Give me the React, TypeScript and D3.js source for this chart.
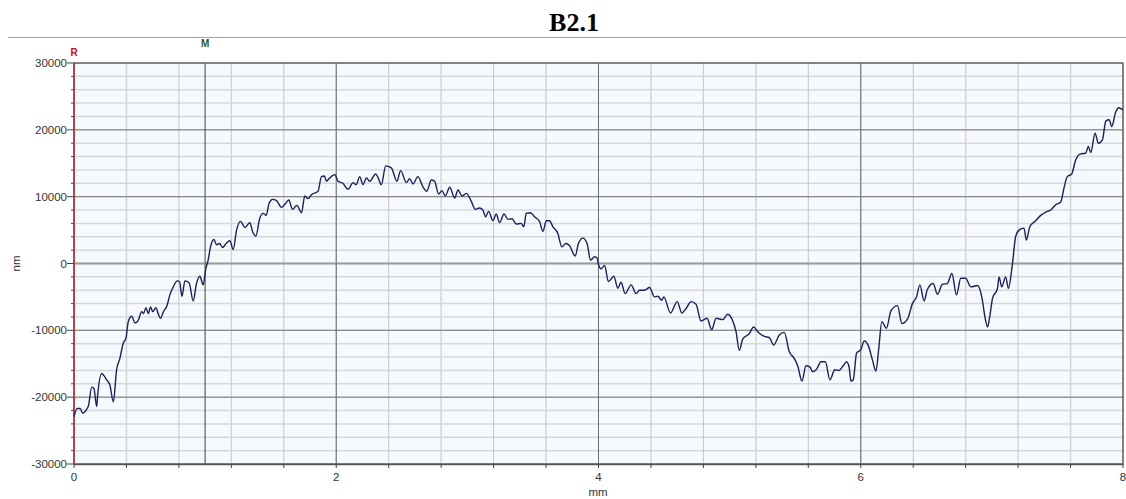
import React from "react";
import * as d3 from "d3";

// Surface profile B2.1: lateral position (mm) against height (nm)
const positionMm = [
  0, 0.025, 0.046, 0.066, 0.097, 0.11, 0.135, 0.152, 0.173, 0.18, 0.211, 0.249, 0.274, 0.3,
  0.325, 0.35, 0.376, 0.396, 0.414, 0.44, 0.465, 0.49, 0.516, 0.53, 0.549, 0.566, 0.584, 0.6,
  0.625, 0.642, 0.66, 0.68, 0.711, 0.731, 0.757, 0.787, 0.805, 0.823, 0.846, 0.878, 0.909,
  0.934, 0.96, 0.985, 1.006, 1.023, 1.041, 1.067, 1.087, 1.11, 1.133, 1.16, 1.189, 1.214,
  1.24, 1.27, 1.303, 1.341, 1.365, 1.387, 1.417, 1.443, 1.465, 1.488, 1.514, 1.545, 1.582,
  1.61, 1.638, 1.666, 1.7, 1.735, 1.76, 1.785, 1.811, 1.861, 1.887, 1.91, 1.925, 1.945, 1.989,
  2.014, 2.05, 2.09, 2.128, 2.152, 2.179, 2.204, 2.23, 2.255, 2.301, 2.32, 2.344, 2.377, 2.42,
  2.463, 2.491, 2.535, 2.56, 2.585, 2.623, 2.66, 2.69, 2.725, 2.75, 2.781, 2.806, 2.832,
  2.865, 2.903, 2.928, 2.96, 2.992, 3.03, 3.06, 3.092, 3.118, 3.139, 3.162, 3.195, 3.22,
  3.246, 3.279, 3.31, 3.34, 3.373, 3.41, 3.43, 3.449, 3.482, 3.512, 3.55, 3.576, 3.602,
  3.627, 3.652, 3.69, 3.72, 3.752, 3.778, 3.822, 3.847, 3.88, 3.913, 3.939, 3.97, 3.99, 4.0,
  4.02, 4.046, 4.076, 4.117, 4.147, 4.172, 4.203, 4.249, 4.287, 4.312, 4.35, 4.389, 4.427,
  4.452, 4.483, 4.498, 4.549, 4.6, 4.636, 4.669, 4.706, 4.744, 4.782, 4.828, 4.863, 4.897,
  4.948, 4.985, 5.024, 5.049, 5.074, 5.1, 5.15, 5.183, 5.214, 5.265, 5.303, 5.336, 5.379,
  5.417, 5.455, 5.493, 5.519, 5.552, 5.582, 5.613, 5.633, 5.664, 5.697, 5.73, 5.765, 5.802,
  5.835, 5.866, 5.892, 5.912, 5.925, 5.943, 5.968, 6.0, 6.027, 6.06, 6.09, 6.116, 6.136,
  6.161, 6.196, 6.23, 6.28, 6.314, 6.357, 6.394, 6.425, 6.451, 6.483, 6.508, 6.552, 6.585,
  6.623, 6.66, 6.695, 6.73, 6.763, 6.8, 6.839, 6.89, 6.923, 6.949, 6.967, 6.985, 7.005,
  7.043, 7.055, 7.075, 7.105, 7.126, 7.156, 7.181, 7.207, 7.245, 7.263, 7.289, 7.334, 7.373,
  7.411, 7.449, 7.487, 7.525, 7.55, 7.575, 7.609, 7.639, 7.677, 7.715, 7.736, 7.754, 7.787,
  7.812, 7.843, 7.869, 7.894, 7.914, 7.945, 7.97, 7.99, 8.0,
];

const heightNm = [
  -22900, -21700, -21700, -22400, -21800, -21300, -18500, -18700, -21400, -19800, -16500,
  -17400, -18200, -20700, -15900, -14200, -11900, -11200, -8700, -7900, -8900, -8500, -7200,
  -7500, -6600, -7500, -6500, -7200, -6600, -7500, -8200, -7300, -6200, -4700, -3500, -2600,
  -2700, -4900, -2600, -2900, -5600, -3000, -1900, -3200, -700, 500, 2500, 3600, 2800, 3000,
  2400, 3000, 3400, 2100, 5000, 6300, 5400, 6100, 4600, 4100, 6800, 7500, 7200, 9000, 9600,
  9400, 8400, 8900, 9500, 8100, 8700, 7600, 10100, 9700, 10300, 10800, 13000, 13100, 12300,
  12700, 13300, 12300, 12000, 11100, 12100, 11800, 13000, 11800, 12800, 12300, 13400, 12800,
  11800, 14600, 14300, 12300, 13900, 12100, 12700, 11900, 13000, 11500, 10800, 12500, 12300,
  10400, 10900, 10100, 11400, 9800, 11000, 10100, 10500, 9300, 8100, 8300, 8000, 7000, 7800,
  6400, 7400, 6100, 7400, 6600, 6700, 5900, 6000, 5500, 7500, 7600, 7000, 6300, 4800, 6400,
  6400, 5500, 4500, 2500, 3000, 2700, 1100, 3000, 3800, 3000, 500, 1000, 800, -200, -800,
  -300, -2700, -1900, -3700, -2800, -4500, -3200, -4500, -4000, -4000, -3600, -5000, -4900,
  -5500, -5000, -7400, -5700, -7400, -6700, -5700, -6100, -8600, -8200, -9900, -8200, -8400,
  -7600, -8600, -10200, -13000, -11300, -10500, -9500, -10200, -10900, -11100, -12200,
  -10700, -10300, -13200, -14200, -15300, -17600, -15300, -15500, -16200, -15800, -14700,
  -14700, -17400, -15900, -16000, -15300, -14700, -15600, -17600, -17400, -13400, -12900,
  -11600, -12400, -14500, -16100, -13000, -8700, -9700, -7100, -6300, -9000, -8300, -6000,
  -5000, -3200, -5600, -3900, -3000, -4600, -3100, -3000, -1500, -4700, -2200, -2200, -3500,
  -3300, -5000, -8200, -9500, -7800, -5200, -3700, -2000, -3500, -2000, -3700, -200, 4000,
  5000, 5300, 3500, 5500, 6400, 7200, 7700, 8000, 8800, 9200, 11300, 13000, 13400, 15500,
  16400, 16500, 17500, 16600, 19500, 18000, 18500, 21300, 21500, 20500, 22700, 23300, 23100,
  23000,
];

const yTickValues = [30000, 20000, 10000, 0, -10000, -20000, -30000];
const xTickValues = [0, 2, 4, 6, 8];
const markerR = 0;
const markerM = 1;
const chartTitle = "B2.1";

const W = 1126;
const H = 499;
const left = 74;
const right = 1123;
const top = 63;
const bottom = 464;

export default function App() {
  const x = d3.scaleLinear().domain([0, 8]).range([left, right]);
  const y = d3.scaleLinear().domain([-30000, 30000]).range([bottom, top]);

  const minorX = d3.range(0, 8.0001, 0.4);
  const minorY = d3.range(-30000, 30001, 2000);

  const points: [number, number][] = positionMm.map((p, i) => [p, heightNm[i]]);
  const line = d3
    .line<[number, number]>()
    .x((d) => x(d[0]))
    .y((d) => y(d[1]))
    .curve(d3.curveMonotoneX);

  const font = "'Liberation Sans', Arial, sans-serif";

  return (
    <svg
      width={W}
      height={H}
      style={{ position: "absolute", left: 0, top: 0, display: "block", background: "#fff" }}
    >
      <text
        x={574}
        y={31}
        textAnchor="middle"
        fontFamily="'Liberation Serif', 'Times New Roman', serif"
        fontWeight="bold"
        fontSize={26}
        fill="#000"
      >
        {chartTitle}
      </text>
      <line x1={8} x2={W} y1={37.5} y2={37.5} stroke="#a0a0a0" strokeWidth={1} />

      {/* plot background */}
      <rect x={left} y={top} width={right - left} height={bottom - top} fill="#f6f9fd" />

      {/* minor horizontal grid */}
      {minorY.map((v) => (
        <line
          key={"hy" + v}
          x1={left}
          x2={right}
          y1={y(v)}
          y2={y(v)}
          stroke="#d6d8dc"
          strokeWidth={1.5}
        />
      ))}
      {/* minor vertical grid */}
      {minorX.map((v, i) => (
        <line
          key={"vx" + i}
          x1={x(v)}
          x2={x(v)}
          y1={top}
          y2={bottom}
          stroke={i % 2 === 0 ? "#c6c6c6" : "#d4d4d4"}
          strokeWidth={i % 2 === 0 ? 1 : 1.5}
        />
      ))}
      {/* major grid */}
      {yTickValues.map((v) => (
        <line
          key={"my" + v}
          x1={left}
          x2={right}
          y1={y(v)}
          y2={y(v)}
          stroke={v === 0 ? "#9a9a9a" : "#7a7a7a"}
          strokeWidth={v === 0 ? 2 : 1}
        />
      ))}
      {xTickValues.map((v) => (
        <line
          key={"mx" + v}
          x1={x(v)}
          x2={x(v)}
          y1={top}
          y2={bottom}
          stroke="#6e6e6e"
          strokeWidth={1}
        />
      ))}

      {/* plot frame */}
      <rect
        x={left}
        y={top}
        width={right - left}
        height={bottom - top}
        fill="none"
        stroke="#5a5a5a"
        strokeWidth={1}
      />
      <line x1={left} x2={right} y1={bottom + 0.5} y2={bottom + 0.5} stroke="#555" strokeWidth={1.5} />

      {/* y ticks */}
      {minorY.map((v) => (
        <line
          key={"ty" + v}
          x1={left - (v % 10000 === 0 ? 7 : 3)}
          x2={left}
          y1={y(v)}
          y2={y(v)}
          stroke="#444"
          strokeWidth={1}
        />
      ))}
      {yTickValues.map((v) => (
        <text
          key={"ly" + v}
          x={left - 7}
          y={y(v)}
          dy="0.35em"
          textAnchor="end"
          fontFamily={font}
          fontSize={11.5}
          fill="#333"
        >
          {v}
        </text>
      ))}

      {/* x ticks */}
      {minorX.map((v, i) => (
        <line
          key={"tx" + i}
          x1={x(v)}
          x2={x(v)}
          y1={bottom}
          y2={bottom + 4}
          stroke="#444"
          strokeWidth={1}
        />
      ))}
      {xTickValues.map((v) => (
        <text
          key={"lx" + v}
          x={x(v)}
          y={481}
          textAnchor="middle"
          fontFamily={font}
          fontSize={11.5}
          fill="#333"
        >
          {v}
        </text>
      ))}

      <text x={598} y={496} textAnchor="middle" fontFamily={font} fontSize={11.5} fill="#333">
        mm
      </text>
      <text
        transform={`translate(20, ${y(0)}) rotate(-90)`}
        textAnchor="middle"
        fontFamily={font}
        fontSize={11.5}
        fill="#333"
      >
        nm
      </text>

      {/* reference and measurement cursors */}
      <line x1={x(markerR)} x2={x(markerR)} y1={top} y2={bottom} stroke="#d42020" strokeWidth={1.2} />
      <text
        x={x(markerR)}
        y={56}
        textAnchor="middle"
        fontFamily={font}
        fontWeight="bold"
        fontSize={10}
        fill="#c81010"
      >
        R
      </text>
      <line x1={x(markerM)} x2={x(markerM)} y1={top} y2={bottom} stroke="#4d6a4d" strokeWidth={1.2} />
      <text
        x={x(markerM)}
        y={47}
        textAnchor="middle"
        fontFamily={font}
        fontWeight="bold"
        fontSize={10}
        fill="#2d5a1e"
      >
        M
      </text>

      {/* profile trace */}
      <path
        d={line(points) ?? ""}
        fill="none"
        stroke="#1d1f5e"
        strokeWidth={1.4}
        strokeLinejoin="round"
      />
    </svg>
  );
}
